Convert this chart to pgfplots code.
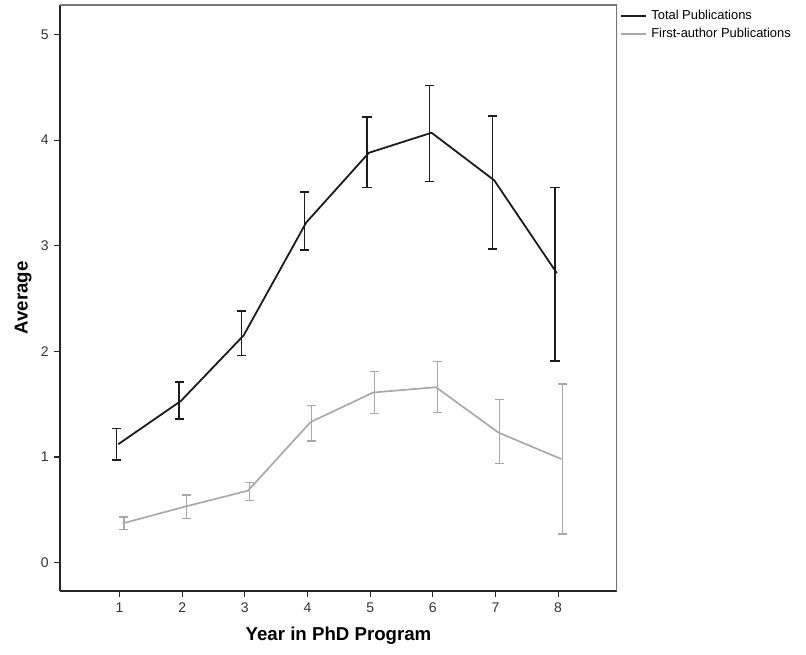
\documentclass[border=0pt]{standalone}
\usepackage{fontspec}
\setmainfont{Liberation Sans}
\usepackage{pgfplots}
\usepackage{pgfplotstable}
\pgfplotsset{compat=1.18}
\definecolor{lblack}{RGB}{28,28,28}
\definecolor{lgray}{RGB}{168,168,168}
\definecolor{fgray}{RGB}{120,120,120}

% year, mean, upper bound, lower bound
\pgfplotstableread{
x y top bot
1 1.12 1.27 0.97
2 1.53 1.71 1.36
3 2.15 2.38 1.96
4 3.22 3.51 2.96
5 3.88 4.22 3.55
6 4.07 4.52 3.61
7 3.62 4.23 2.97
8 2.74 3.55 1.91
}\totalpub
\pgfplotstableread{
x y top bot
1 0.37 0.43 0.31
2 0.53 0.64 0.42
3 0.68 0.76 0.59
4 1.33 1.49 1.15
5 1.61 1.81 1.41
6 1.66 1.90 1.42
7 1.23 1.54 0.94
8 0.98 1.69 0.27
}\firstpub

\begin{document}
\begin{tikzpicture}
\path[use as bounding box] (-45pt,-48pt) rectangle (559.5pt,443.25pt);
\begin{axis}[
  at={(0,0)}, anchor=south west,
  scale only axis, width=417.75pt, height=439.5pt,
  xmin=0.05, xmax=8.94, ymin=-0.27, ymax=5.28,
  axis x line=bottom, axis y line=left,
  axis line style={-, line width=0.9pt, black!85},
  xtick={1,...,8}, ytick={0,...,5},
  tick align=outside, major tick length=4.5pt,
  tick style={line width=0.9pt, black!85},
  /pgf/number format/assume math mode=true,
  tick label style={font=\fontsize{10.5}{12}\selectfont, black!80},
  xticklabel style={yshift=-1pt},
  yticklabel style={xshift=-0.5pt},
  xlabel={\textbf{Year in PhD Program}},
  ylabel={\textbf{Average}},
  label style={font=\fontsize{14}{16}\selectfont},
  xlabel style={yshift=-4pt},
  legend style={at={(rel axis cs:1,1)}, anchor=north west,
    xshift=2pt, yshift=-3.5pt, draw=none, fill=none, inner sep=0pt,
    font=\fontsize{9.7}{11}\selectfont, column sep=3.5pt, row sep=3.8pt,
    nodes={inner sep=0pt, text height=7.2pt, text depth=2.3pt}},
  legend cell align=left,
  legend image code/.code={\draw[#1, line width=1.3pt] (0pt,0pt) -- (18.75pt,0pt);},
]
\draw[fgray, line width=0.9pt] (rel axis cs:0,1) -- (rel axis cs:1,1) -- (rel axis cs:1,0);
\addplot[lblack, line width=1.35pt, no marks] table[x expr=\thisrow{x}-0.02, y=y] {\totalpub};
\addlegendentry{Total Publications}
\addplot[lgray, line width=1.25pt, no marks] table[x expr=\thisrow{x}+0.05, y=y] {\firstpub};
\addlegendentry{First-author Publications}
\addplot[draw=none, no marks, forget plot,
  error bars/.cd, y dir=both, y explicit,
  error bar style={lblack, line width=1.1pt},
  error mark options={rotate=90, lblack, mark size=3.4pt, line width=1.1pt}]
  table[x expr=\thisrow{x}-0.05, y=y,
    y error plus expr=\thisrow{top}-\thisrow{y},
    y error minus expr=\thisrow{y}-\thisrow{bot}] {\totalpub};
\addplot[draw=none, no marks, forget plot,
  error bars/.cd, y dir=both, y explicit,
  error bar style={lgray, line width=0.9pt},
  error mark options={rotate=90, lgray, mark size=3.4pt, line width=0.9pt}]
  table[x expr=\thisrow{x}+0.07, y=y,
    y error plus expr=\thisrow{top}-\thisrow{y},
    y error minus expr=\thisrow{y}-\thisrow{bot}] {\firstpub};
\end{axis}
\end{tikzpicture}
\end{document}
